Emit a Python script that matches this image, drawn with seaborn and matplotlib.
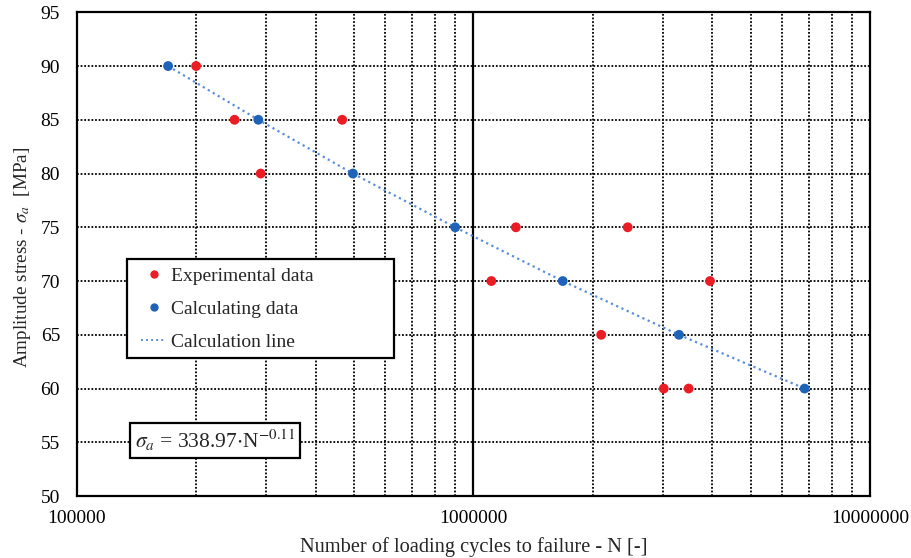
import numpy as np
import pandas as pd
import matplotlib
matplotlib.use("Agg")
import matplotlib.pyplot as plt
from matplotlib.ticker import LogLocator, FixedLocator, FixedFormatter, NullFormatter
from matplotlib.lines import Line2D
from matplotlib.patches import Rectangle
import seaborn as sns

# Experimental data
exp_N = [200000, 250000, 467000, 291000, 1280000, 2450000, 1110000, 3950000,
         2100000, 3020000, 3490000]
exp_S = [90, 85, 85, 80, 75, 75, 70, 70, 65, 60, 60]

# Calculating data
calc_N = [170000, 287000, 497000, 900000, 1680000, 3300000, 6840000]
calc_S = [90, 85, 80, 75, 70, 65, 60]

x_ticks = [100000, 1000000, 10000000]
x_tick_labels = ["100000", "1000000", "10000000"]
y_ticks = [50, 55, 60, 65, 70, 75, 80, 85, 90, 95]

sns.set_style("white")
plt.rcParams['font.family'] = ['Liberation Serif', 'DejaVu Serif']
plt.rcParams['mathtext.fontset'] = 'stix'

fig = plt.figure(figsize=(9.11, 5.58), dpi=100)
ax = fig.add_axes([0.0842, 0.111, 0.8708, 0.867])

df_exp = pd.DataFrame({"N": exp_N, "S": exp_S})
df_calc = pd.DataFrame({"N": calc_N, "S": calc_S})

red = "#EC1C24"
blue = "#1F63B8"
lblue = "#5A8EDB"

ax.set_xscale("log")
ax.set_xlim(1e5, 1e7)
ax.set_ylim(50, 95)

# grid
ax.xaxis.set_major_locator(FixedLocator(x_ticks))
ax.xaxis.set_major_formatter(FixedFormatter(x_tick_labels))
ax.xaxis.set_minor_locator(LogLocator(base=10, subs=np.arange(2, 10)))
ax.xaxis.set_minor_formatter(NullFormatter())
ax.set_yticks(y_ticks)
ax.grid(True, which="both", axis="x", color="black", linestyle=(0, (1, 1)), linewidth=1.3)
ax.grid(True, which="major", axis="y", color="black", linestyle=(0, (1, 1)), linewidth=1.3)
ax.axvline(1e6, color="black", linewidth=1.6, zorder=1.5)
ax.set_axisbelow(True)

sns.lineplot(data=df_calc, x="N", y="S", ax=ax, color=lblue, linestyle=(0, (1, 1.6)),
             linewidth=1.6, sort=False, zorder=2, legend=False)
sns.scatterplot(data=df_exp, x="N", y="S", ax=ax, color=red, s=50, edgecolor="none",
                zorder=3, legend=False)
sns.scatterplot(data=df_calc, x="N", y="S", ax=ax, color=blue, s=50, edgecolor="none",
                zorder=3, legend=False)

for sp in ax.spines.values():
    sp.set_color("black")
    sp.set_linewidth(1.6)

ax.tick_params(axis="both", which="both", length=0, labelsize=14, colors="black")
ax.tick_params(axis="x", pad=10)
ax.tick_params(axis="y", pad=12)

ax.set_xlabel("Number of loading cycles to failure - N [-]", fontsize=14.7, labelpad=7)
ax.set_ylabel(r"Amplitude stress - $\sigma_a$  [MPa]", fontsize=13.8)
ax.yaxis.set_label_coords(-0.0551, 0.494)

# legend frame
ax.add_patch(Rectangle((0.0638, 0.2845), 0.4 - 0.0638, 0.489 - 0.2845,
                       transform=ax.transAxes, facecolor="white", edgecolor="black",
                       linewidth=1.6, zorder=4))
handles = [
    Line2D([], [], marker="o", linestyle="none", color=red, markersize=5),
    Line2D([], [], marker="o", linestyle="none", color=blue, markersize=5),
    Line2D([], [], color=lblue, linestyle=(0, (1, 1.6)), linewidth=1.4),
]
labels = ["Experimental data", "Calculating data", "Calculation line"]
leg = ax.legend(handles, labels, loc="upper left", bbox_to_anchor=(0.081, 0.473),
                fontsize=14, frameon=False, handlelength=1.3, borderpad=0,
                labelspacing=0.8, handletextpad=0.25, borderaxespad=0)
leg.set_zorder(5)

ax.text(0.0735, 0.1157, r"$\sigma_a$ = 338.97$\cdot$N$^{-0.11}$", transform=ax.transAxes,
        fontsize=15.5, va="center", ha="left", zorder=5,
        bbox=dict(boxstyle="square,pad=0.22", facecolor="white", edgecolor="black", linewidth=1.6))

fig.savefig("out.png", dpi=100)
